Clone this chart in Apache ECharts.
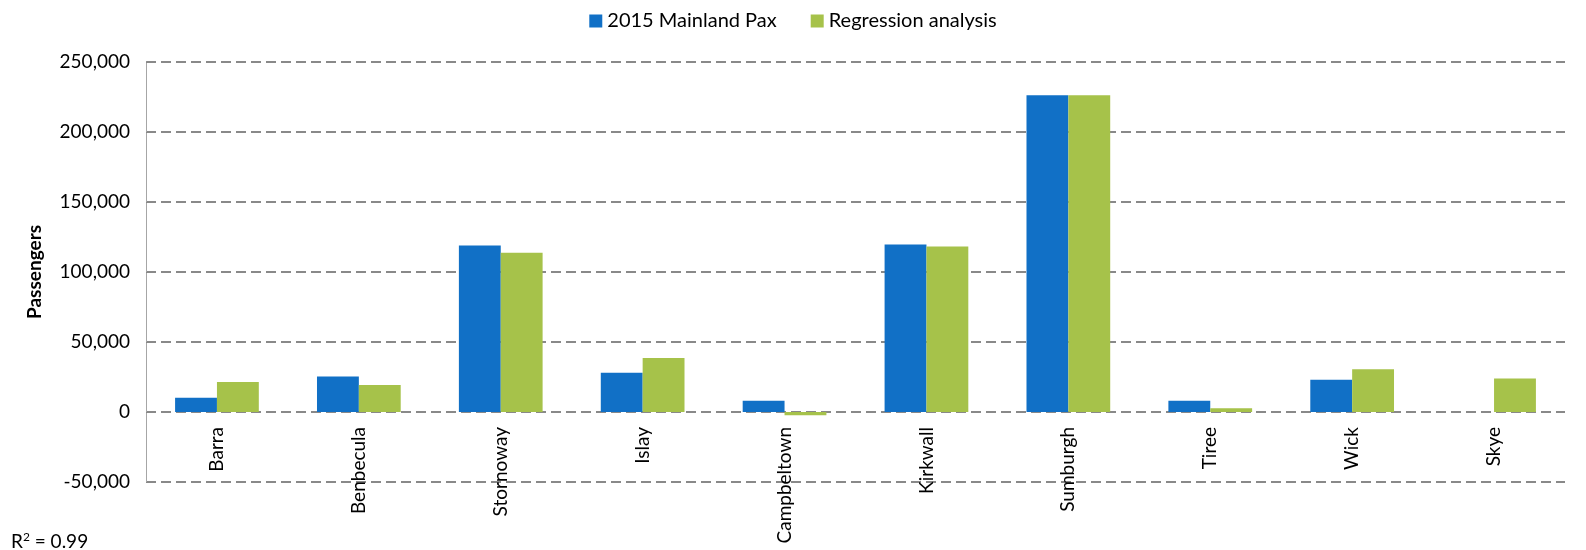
<!DOCTYPE html>
<html lang="en">
  <head>
    <meta charset="UTF-8" />
    <script src="https://cdn.jsdelivr.net/npm/echarts@6/dist/echarts.min.js"></script>
    <title>Mainland passengers vs regression</title>
    <style>
      html, body { margin: 0; padding: 0; background: #fff; }
    </style>
  </head>
  <body>
    <div id="main" style="width: 1586px; height: 550px"></div>
    <script>
      var airports = ["Barra", "Benbecula", "Stornoway", "Islay", "Campbeltown", "Kirkwall", "Sumburgh", "Tiree", "Wick", "Skye"];
      var mainlandPax = [10200, 25300, 119000, 28100, 8100, 119700, 226200, 8100, 23100, null];
      var regression = [21400, 19300, 113700, 38600, -2400, 118300, 226200, 2600, 30500, 23900];

      var FONT = "Lato, 'Open Sans', sans-serif";
      var gridDash = { type: [10, 5], color: "#898989", width: 2 };
      var chart = echarts.init(document.getElementById("main"));

      var option = {
        animation: false,
        textStyle: { fontFamily: FONT },
        legend: {
          top: 6,
          left: "center",
          itemWidth: 13,
          itemHeight: 13,
          itemGap: 34,
          icon: "rect",
          textStyle: { fontSize: 20, color: "#000", fontFamily: FONT },
          data: ["2015 Mainland Pax", "Regression analysis"]
        },
        grid: { left: 146, right: 21, top: 62, bottom: 68, containLabel: false, outerBoundsMode: "none" },
        xAxis: {
          type: "category",
          data: airports,
          // labels hang from the zero line (70px above the plot bottom)
          offset: -70,
          axisLine: { show: false, onZero: false },
          axisTick: { show: false },
          axisLabel: {
            rotate: 90,
            margin: 15,
            fontSize: 19,
            color: "#000",
            fontFamily: FONT
          }
        },
        yAxis: {
          type: "value",
          min: -50000,
          max: 250000,
          interval: 50000,
          name: "Passengers",
          nameLocation: "middle",
          nameGap: 102,
          nameTextStyle: { fontSize: 19, fontWeight: "bold", color: "#000", fontFamily: FONT },
          axisLine: { show: true, lineStyle: { color: "#a6a6a6", width: 1 } },
          axisTick: { show: true, inside: true, length: 6, lineStyle: { color: "#888" } },
          axisLabel: {
            fontSize: 19,
            color: "#000",
            margin: 16,
            fontFamily: FONT,
            formatter: function (v) { return v.toLocaleString("en-US"); }
          },
          splitLine: { lineStyle: gridDash }
        },
        series: [
          {
            name: "2015 Mainland Pax",
            type: "bar",
            data: mainlandPax,
            barGap: "0%",
            barCategoryGap: "41%",
            itemStyle: { color: "#1170c6" }
          },
          {
            name: "Regression analysis",
            type: "bar",
            data: regression,
            barGap: "0%",
            barCategoryGap: "41%",
            itemStyle: { color: "#a6c24a" }
          }
        ],
        graphic: [
          {
            type: "text",
            left: 11,
            top: 531,
            style: {
              text: "{b|R}{s|2}{b| = 0.99}",
              rich: {
                b: { fontSize: 19, fontFamily: FONT, fill: "#000", verticalAlign: "bottom" },
                s: { fontSize: 12, fontFamily: FONT, fill: "#000", verticalAlign: "top", padding: [0, 0, 8, 0] }
              }
            }
          }
        ]
      };

      chart.setOption(option);
    </script>
  </body>
</html>
